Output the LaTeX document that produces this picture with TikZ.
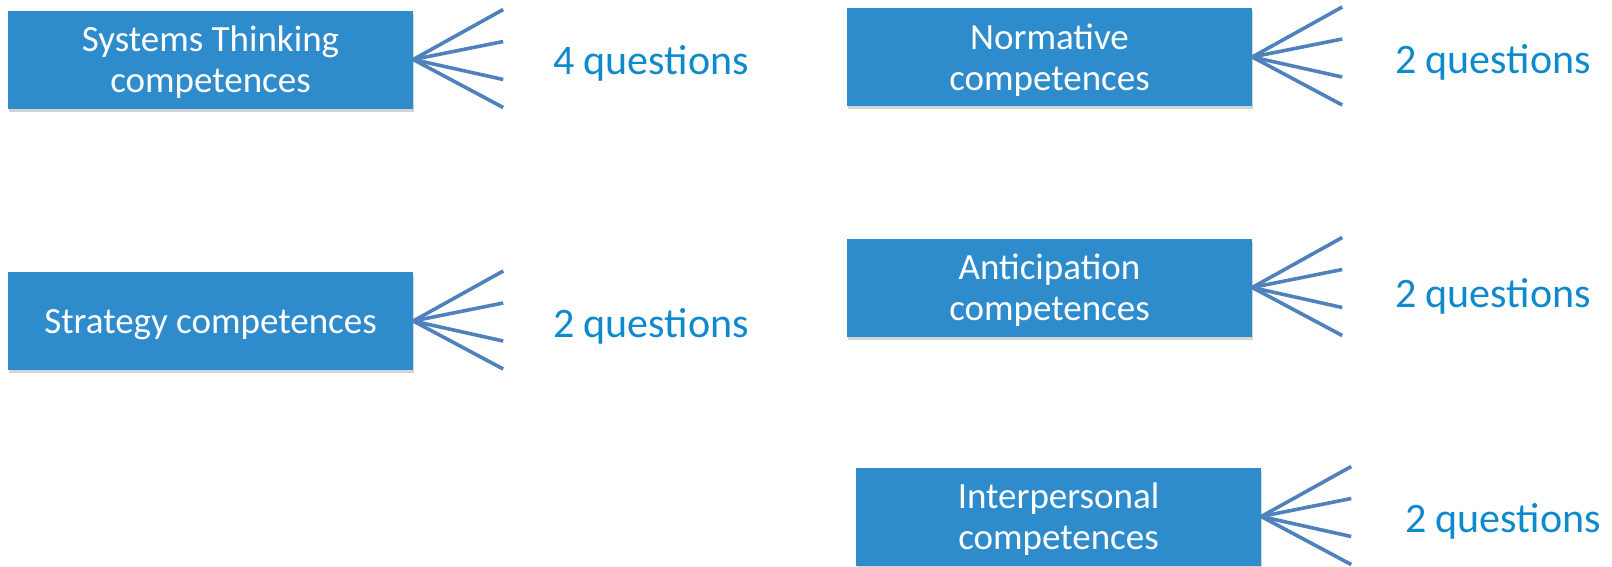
\documentclass[tikz,border=0pt]{standalone}
\usepackage{fontspec}
\setmainfont{Carlito}
\usetikzlibrary{shadows}
\definecolor{boxblue}{RGB}{46,139,204}
\definecolor{fanblue}{RGB}{79,129,189}
\definecolor{qblue}{RGB}{14,138,204}
\tikzset{
  compbox/.style={rectangle, fill=boxblue, text=white, align=center,
    minimum width=405pt, minimum height=98pt, inner sep=0pt, text depth=0pt,
    font=\fontsize{37}{41}\selectfont,
    drop shadow={opacity=0.35, shadow xshift=1pt, shadow yshift=-3pt}},
  fan/.style={draw=fanblue, line width=3.6pt},
  qtext/.style={text=qblue, font=\fontsize{42}{46}\selectfont, inner sep=0pt}
}

\begin{document}
\begin{tikzpicture}[x=1pt, y=-1pt]

  \useasboundingbox (0,0) rectangle (1612,566);

  % Kompetenz-Boxen
  \node[compbox] (sys)   at (210.5,59.5)  {Systems Thinking\\competences};
  \node[compbox] (norm)  at (1049.5,57)   {Normative\\competences};
  \node[compbox] (strat) at (210.5,321)   {Strategy competences};
  \node[compbox] (antic) at (1049.5,287.5){Anticipation\\competences};
  \node[compbox] (inter) at (1058.5,516.5){Interpersonal\\competences};

  % Anzahl Fragen
  \node[qtext] (sys-q)   at (651,63)   {4 questions};
  \node[qtext] (norm-q)  at (1493,62)  {2 questions};
  \node[qtext] (strat-q) at (651,326)  {2 questions};
  \node[qtext] (antic-q) at (1493,296) {2 questions};
  \node[qtext] (inter-q) at (1503,521) {2 questions};

  % Striche, fächerförmig
  \foreach \n in {sys,norm,strat,antic,inter} {
    \foreach \dy [count=\i] in {-50,-18,20,48} {
      \coordinate (\n-\i) at ([shift={(90,\dy)}]\n.east);
      \draw[fan] (\n.east) -- (\n-\i);
    }
  }

\end{tikzpicture}
\end{document}
